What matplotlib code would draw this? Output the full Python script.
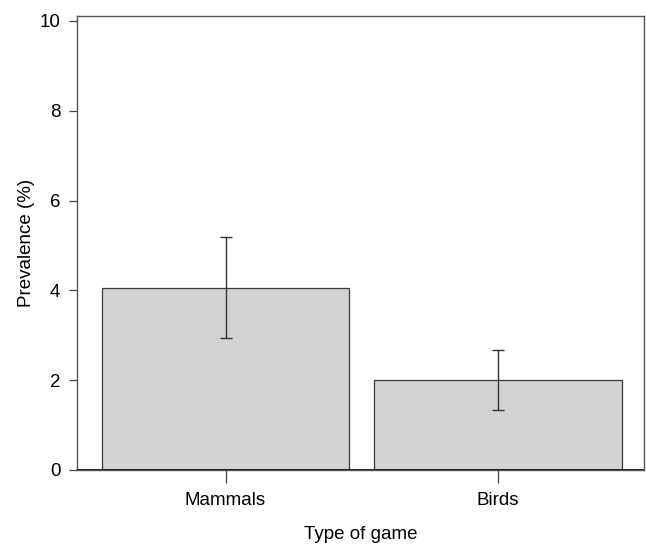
import matplotlib
matplotlib.use("Agg")
import matplotlib.pyplot as plt

# data
categories = ["Mammals", "Birds"]
prevalence = [4.06, 2.01]
ci_low = [2.95, 1.34]
ci_high = [5.18, 2.67]

plt.rcParams['font.family'] = ['Liberation Sans', 'DejaVu Sans']
plt.rcParams['font.size'] = 13.5

fig = plt.figure(figsize=(6.46, 5.45), dpi=100)
ax = fig.add_axes([77/646, 75/545, (644-77)/646, (470-16)/545])

# R barplot style positions (width 1, space 0.1)
pos = [0.7, 1.8]
err_lo = [p - l for p, l in zip(prevalence, ci_low)]
err_hi = [h - p for p, h in zip(prevalence, ci_high)]

ax.bar(pos, prevalence, width=1.0, color='#d3d3d3', edgecolor='#3a3a3a',
       linewidth=0.9, zorder=2)
ax.errorbar(pos, prevalence, yerr=[err_lo, err_hi], fmt='none',
            ecolor='#333333', elinewidth=1.0, capsize=4, capthick=1.0, zorder=3)
ax.axhline(0, color='#111111', linewidth=2.0, zorder=4)

ax.set_xlim(0.1, 2.39)
ax.set_ylim(0, 10.11)
ax.set_yticks([0, 2, 4, 6, 8, 10])
ax.set_xticks(pos)
ax.set_xticklabels(categories)
ax.set_ylabel("Prevalence (%)", labelpad=3)
ax.set_xlabel("Type of game", labelpad=12)

for s in ax.spines.values():
    s.set_color('#555555')
    s.set_linewidth(1.0)
ax.tick_params(axis='y', length=6, width=0.9, color='#444444', pad=6)
ax.tick_params(axis='x', length=9, width=0.9, color='#444444', pad=7)

fig.savefig("out.png", dpi=100)
